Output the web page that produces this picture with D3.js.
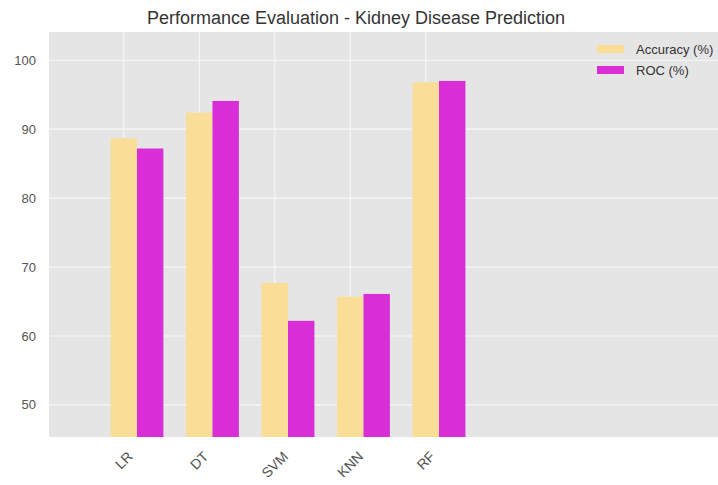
<html>
  <meta charset="utf-8" />
  <script src="https://d3js.org/d3.v7.min.js"></script>
  <style>
    body { margin: 0; background: #fff; }
    text { font-family: "Liberation Sans", Arial, sans-serif; }
  </style>
  <body>
    <svg width="718" height="485" id="chart"></svg>
    <script>
      const models = ["LR", "DT", "SVM", "KNN", "RF"];
      const accuracy = [88.7, 92.4, 67.7, 65.7, 96.8];
      const roc = [87.2, 94.1, 62.2, 66.1, 97.0];
      const yTicks = [50, 60, 70, 80, 90, 100];
      const seriesNames = ["Accuracy (%)", "ROC (%)"];

      const svg = d3.select("#chart");
      const plotLeft = 49, plotRight = 718, plotTop = 32, plotBottom = 437;
      const barW = 0.35;

      const x = d3.scaleLinear().domain([-0.99, 7.87]).range([plotLeft, plotRight]);
      const y = d3.scaleLinear().domain([45.35, 104.1]).range([plotBottom, plotTop]);

      svg.append("rect")
        .attr("x", plotLeft).attr("y", plotTop)
        .attr("width", plotRight - plotLeft).attr("height", plotBottom - plotTop)
        .attr("fill", "#e5e5e5");

      // grid
      svg.append("g")
        .selectAll("line")
        .data(yTicks)
        .join("line")
        .attr("x1", plotLeft).attr("x2", plotRight)
        .attr("y1", d => y(d)).attr("y2", d => y(d))
        .attr("stroke", "#f7f7f7").attr("stroke-width", 1.2);

      svg.append("g")
        .selectAll("line")
        .data(models)
        .join("line")
        .attr("x1", (d, i) => x(i)).attr("x2", (d, i) => x(i))
        .attr("y1", plotTop).attr("y2", plotBottom)
        .attr("stroke", "#f7f7f7").attr("stroke-width", 1.2);

      // bars
      svg.append("g")
        .selectAll("rect")
        .data(accuracy)
        .join("rect")
        .attr("x", (d, i) => x(i - barW / 2))
        .attr("width", x(barW) - x(0))
        .attr("y", d => y(d))
        .attr("height", d => plotBottom - y(d))
        .attr("fill", "#fade97");

      svg.append("g")
        .selectAll("rect")
        .data(roc)
        .join("rect")
        .attr("x", (d, i) => x(i + barW / 2))
        .attr("width", x(barW) - x(0))
        .attr("y", d => y(d))
        .attr("height", d => plotBottom - y(d))
        .attr("fill", "#d92ed6");

      // y tick labels
      svg.append("g")
        .selectAll("text")
        .data(yTicks)
        .join("text")
        .attr("x", 36)
        .attr("y", d => y(d))
        .attr("dy", "0.35em")
        .attr("text-anchor", "end")
        .attr("font-size", 13)
        .attr("fill", "#555")
        .text(d => d);

      // x tick labels, rotated 45
      const xl = svg.append("g")
        .selectAll("text")
        .data(models)
        .join("text")
        .attr("text-anchor", "middle")
        .attr("dy", "0.35em")
        .attr("font-size", 14)
        .attr("fill", "#555")
        .text(d => d);
      xl.each(function (d, i) {
        const len = this.getComputedTextLength();
        const cx = x(i);
        const cy = 449 + (len * 0.707 + 14 * 0.707) / 2;
        d3.select(this)
          .attr("x", cx).attr("y", cy)
          .attr("transform", `rotate(-45, ${cx}, ${cy})`);
      });

      // title
      svg.append("text")
        .attr("x", 356)
        .attr("y", 24)
        .attr("text-anchor", "middle")
        .attr("font-size", 18)
        .attr("fill", "#333")
        .text("Performance Evaluation - Kidney Disease Prediction");

      // legend
      const colors = ["#fade97", "#d92ed6"];
      const lg = svg.append("g");
      seriesNames.forEach((name, i) => {
        lg.append("rect")
          .attr("x", 597).attr("y", 45 + i * 21)
          .attr("width", 27).attr("height", 8)
          .attr("fill", colors[i]);
        lg.append("text")
          .attr("x", 636).attr("y", 49 + i * 21)
          .attr("dy", "0.35em")
          .attr("font-size", 13)
          .attr("fill", "#333")
          .text(name);
      });
    </script>
  </body>
</html>
